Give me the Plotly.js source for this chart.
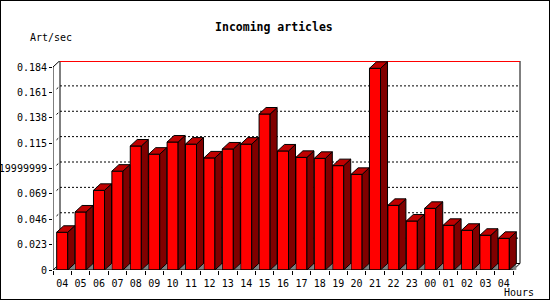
<!DOCTYPE html>
<html>
<head>
<meta charset="utf-8">
<script src="https://cdn.plot.ly/plotly-3.0.1.min.js"></script>
<style>
  html, body { margin: 0; padding: 0; background: #fff; }
  #wrap { position: relative; width: 550px; height: 300px; }
  #chart { width: 550px; height: 300px; }
  #frame { position: absolute; left: 0; top: 0; width: 550px; height: 300px; box-sizing: border-box; border: 1px solid #000; pointer-events: none; }
</style>
</head>
<body>
<div id="wrap"><div id="chart"></div><div id="frame"></div></div>
<script>
// ---- data ----
const hours = ['04','05','06','07','08','09','10','11','12','13','14','15','16','17','18','19','20','21','22','23','00','01','02','03','04'];
const rates = [0.0342,0.0526,0.0722,0.0896,0.1124,0.1050,0.1160,0.1141,0.1016,0.1097,0.1141,0.1414,0.1079,0.1021,0.1012,0.0946,0.0867,0.1828,0.0586,0.0444,0.0559,0.0405,0.0360,0.0315,0.0287];
const yTicks = [0,0.023,0.046,0.069,0.092,0.115,0.138,0.161,0.184];
const yTickLabels = ['0','0.023','0.046','0.069','0.0919999999','0.115','0.138','0.161','0.184'];

// ---- geometry (pixels -> axis units) ----
const PX_X = 18.4;          // px per category slot
const PX_Y = 203 / 0.184;   // px per unit of y
const DX = 7 / PX_X;        // 3D depth offset in x units
const DY = 6.5 / PX_Y;      // 3D depth offset in y units
const BAR_L = 0.2, BAR_W = 0.6;
const N = hours.length;
const YMAX = yTicks[yTicks.length - 1];
const MONO = 'DejaVu Sans Mono, Liberation Mono, monospace';

const idx = hours.map((_, i) => i);

const frontTrace = {
  type: 'bar', x: idx.map(i => i + BAR_L + BAR_W / 2), y: rates, width: BAR_W,
  marker: { color: '#ff0000', line: { color: '#000', width: 1 } },
  hoverinfo: 'skip', showlegend: false
};

const floorX = [], floorY = [], topX = [], topY = [], sideX = [], sideY = [];
rates.forEach((v, i) => {
  const x0 = i + BAR_L, x1 = x0 + BAR_W;
  floorX.push(x1, x1 + DX, x1 + DX, x1, null);
  floorY.push(0, 0, DY, 0, null);
  topX.push(x0, x1, x1 + DX, x0 + DX, x0, null);
  topY.push(v, v, v + DY, v + DY, v, null);
  sideX.push(x1, x1 + DX, x1 + DX, x1, x1, null);
  sideY.push(0, DY, v + DY, v, 0, null);
});
const floorTrace = { type: 'scatter', mode: 'lines', x: floorX, y: floorY, fill: 'toself', fillcolor: '#808080', line: { width: 0, color: '#808080' }, hoverinfo: 'skip', showlegend: false };
const topTrace = { type: 'scatter', mode: 'lines', x: topX, y: topY, fill: 'toself', fillcolor: '#c00000', line: { width: 1, color: '#000' }, hoverinfo: 'skip', showlegend: false };
const sideTrace = { type: 'scatter', mode: 'lines', x: sideX, y: sideY, fill: 'toself', fillcolor: '#800000', line: { width: 1, color: '#000' }, hoverinfo: 'skip', showlegend: false };

// ---- frame / grid shapes ----
const shapes = [];
const ln = (x0, y0, x1, y1, color, dash, layer) => shapes.push({
  type: 'line', xref: 'x', yref: 'y', x0, y0, x1, y1, layer: layer || 'below',
  line: { color: color || '#000', width: 1, dash: dash || 'solid' }
});
// back grid lines
yTicks.slice(1, -1).forEach(t => {
  ln(DX, t + DY, N + DX, t + DY, '#000', '2px,2px');
  ln(DX * 0.5, t + DY * 0.5, DX * 0.75, t + DY * 0.75);
});
// back wall
ln(DX, DY, DX, YMAX + DY);
ln(N + DX, DY, N + DX, YMAX + DY);
ln(DX, DY, N + DX, DY);
ln(DX, YMAX + DY, N + DX, YMAX + DY);
ln(DX, YMAX + DY - 1 / PX_Y, N + DX, YMAX + DY - 1 / PX_Y, '#ff0000');
// depth diagonals
ln(0, 0, DX, DY);
ln(0, YMAX, DX, YMAX + DY);
ln(N, 0, N + DX, DY);
// front axes
ln(0, 0, N, 0, '#000', 'solid', 'above');
ln(0, 0, 0, YMAX, '#000', 'solid', 'above');

const layout = {
  width: 550, height: 300,
  margin: { l: 53, r: 29, t: 61, b: 30, pad: 0 },
  paper_bgcolor: '#fff', plot_bgcolor: '#fff',
  showlegend: false,
  barmode: 'overlay',
  title: { text: 'Incoming articles', font: { family: MONO, size: 11.5, color: '#000', weight: 700 },
           xref: 'container', x: 0.498, xanchor: 'center', yref: 'container', y: 1 - 26.7 / 300, yanchor: 'middle' },
  xaxis: {
    range: [0, 468 / PX_X], fixedrange: true,
    tickmode: 'array', tickvals: idx.map(i => i + 0.5), ticktext: hours,
    ticks: 'outside', ticklen: 4, tickcolor: 'rgba(0,0,0,0)',
    minor: { tick0: 0, dtick: 1, ticks: 'outside', ticklen: 4, tickcolor: '#000', tickwidth: 1, showgrid: false },
    showgrid: false, zeroline: false, showline: false,
    tickfont: { family: MONO, size: 10, color: '#000' }
  },
  yaxis: {
    range: [0, 209 / PX_Y], fixedrange: true,
    tickmode: 'array', tickvals: yTicks, ticktext: yTickLabels,
    ticks: 'outside', ticklen: 3, tickcolor: '#000', tickwidth: 1,
    showgrid: false, zeroline: false, showline: false,
    tickfont: { family: MONO, size: 10, color: '#000' }
  },
  shapes,
  annotations: [
    { text: 'Art/sec', xref: 'paper', yref: 'paper', x: (50.5 - 53) / 468, y: (270 - 37) / 209,
      xanchor: 'center', yanchor: 'middle', showarrow: false, font: { family: MONO, size: 10, color: '#000' } },
    { text: 'Hours', xref: 'paper', yref: 'paper', x: (519 - 53) / 468, y: (270 - 292) / 209,
      xanchor: 'center', yanchor: 'middle', showarrow: false, font: { family: MONO, size: 10, color: '#000' } }
  ]
};

Plotly.newPlot('chart', [frontTrace, floorTrace, sideTrace, topTrace], layout, { displayModeBar: false, staticPlot: true });
</script>
</body>
</html>
